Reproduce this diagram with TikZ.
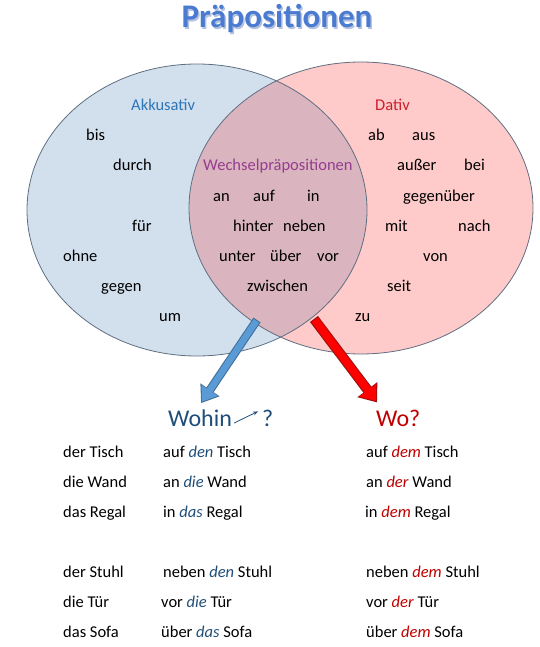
\documentclass[tikz,border=0pt]{standalone}
\usepackage{fontspec}
\setmainfont{Carlito}
\usetikzlibrary{arrows.meta}

\definecolor{akkfill}{HTML}{D2E0EE}
\definecolor{datfill}{HTML}{FFCACA}
\definecolor{schnittfill}{HTML}{DAB5BF}
\definecolor{rand}{HTML}{5F6F80}
\definecolor{akkblau}{HTML}{2E75B6}
\definecolor{datrot}{HTML}{CC1F2C}
\definecolor{wechsellila}{HTML}{953C8F}
\definecolor{wohinblau}{HTML}{1F4E79}
\definecolor{worot}{HTML}{C00000}
\definecolor{titelblau}{HTML}{4A7BD0}
\definecolor{titelschatten}{HTML}{B4C2DE}
\definecolor{pfeilblau}{HTML}{5B9BD5}
\definecolor{pfeilblaurand}{HTML}{41719C}
\definecolor{pfeilrot}{HTML}{FF0000}
\definecolor{pfeilrotrand}{HTML}{9E1010}

\newcommand{\akkart}[1]{\textcolor{wohinblau}{\textit{#1}}}
\newcommand{\datart}[1]{\textcolor{worot}{\textit{#1}}}

\begin{document}
\begin{tikzpicture}[x=1pt, y=-1pt,
    wort/.style={anchor=base west, inner sep=0pt, font=\fontsize{16.5}{20}\selectfont},
    titel/.style={anchor=base, inner sep=0pt, font=\fontsize{33}{38}\selectfont\bfseries},
    frage/.style={anchor=base west, inner sep=0pt, font=\fontsize{24}{28}\selectfont},
    akkpfeil/.style={line width=8.6pt, draw=pfeilblaurand, -{Triangle[width=22pt,length=16pt]},
        postaction={draw=pfeilblau, line width=6.4pt, shorten <=1.1pt, shorten >=1.8pt,
            -{Triangle[width=18.5pt,length=13.5pt]}}},
    datpfeil/.style={line width=10pt, draw=pfeilrotrand, -{Triangle[width=24pt,length=16pt]},
        postaction={draw=pfeilrot, line width=7.8pt, shorten <=1.1pt, shorten >=1.8pt,
            -{Triangle[width=20.5pt,length=13.5pt]}}},
]
    \useasboundingbox (0,0) rectangle (540,647);

    % title
    \node[titel, text=titelschatten] (titelschatten) at (278.5,29.5) {Präpositionen};
    \node[titel, text=titelblau] (titel) at (277,28) {Präpositionen};

    % venn diagram
    \fill[akkfill] (197,210) ellipse [x radius=170pt, y radius=146pt];
    \fill[datfill] (361,208) ellipse [x radius=172pt, y radius=146pt];
    \begin{scope}
        \clip (197,210) ellipse [x radius=170pt, y radius=146pt];
        \fill[schnittfill] (361,208) ellipse [x radius=172pt, y radius=146pt];
    \end{scope}
    \draw[rand, line width=0.8pt] (197,210) ellipse [x radius=170pt, y radius=146pt];
    \draw[rand, line width=0.8pt] (361,208) ellipse [x radius=172pt, y radius=146pt];

    % Akkusativ
    \node[wort, text=akkblau] (akk) at (131,111) {Akkusativ};
    \node[wort] (bis) at (86,141) {bis};
    \node[wort] (durch) at (113,171) {durch};
    \node[wort] (fuer) at (132,231) {für};
    \node[wort] (ohne) at (63,261) {ohne};
    \node[wort] (gegen) at (101,291) {gegen};
    \node[wort] (um) at (159,321) {um};

    % Dativ
    \node[wort, text=datrot] (dat) at (375,111) {Dativ};
    \node[wort] (ab) at (368,141) {ab};
    \node[wort] (aus) at (412,141) {aus};
    \node[wort] (ausser) at (397,171) {außer};
    \node[wort] (bei) at (464,171) {bei};
    \node[wort] (gegenueber) at (403,201) {gegenüber};
    \node[wort] (mit) at (385,231) {mit};
    \node[wort] (nach) at (458,231) {nach};
    \node[wort] (von) at (423,261) {von};
    \node[wort] (seit) at (387,291) {seit};
    \node[wort] (zu) at (355,321) {zu};

    % Wechselpraepositionen
    \node[wort, text=wechsellila] (wechsel) at (203,171) {Wechselpräpositionen};
    \node[wort] (an) at (213,201) {an};
    \node[wort] (auf) at (253,201) {auf};
    \node[wort] (inw) at (307,201) {in};
    \node[wort] (hinter) at (233,231) {hinter};
    \node[wort] (neben) at (283,231) {neben};
    \node[wort] (unter) at (219,261) {unter};
    \node[wort] (ueber) at (270,261) {über};
    \node[wort] (vor) at (317,261) {vor};
    \node[wort] (zwischen) at (247,291) {zwischen};

    % Fragen
    \node[frage, text=wohinblau] (wohin) at (168,426) {Wohin};
    \node[frage, text=wohinblau] (qmark) at (262,426) {?};
    \node[frage, text=worot] (wo) at (376,426) {Wo?};

    \coordinate (akkstart) at (257,320);
    \coordinate (datstart) at (314,319);
    \draw[akkpfeil] (akkstart) -- ([xshift=1pt,yshift=6pt]wohin.north);
    \draw[datpfeil] (datstart) -- ([xshift=1pt,yshift=7pt]wo.north west);
    \draw[wohinblau, line width=0.8pt, -{Stealth[length=5pt,width=4pt]}]
        ([xshift=2pt,yshift=3pt]wohin.base east) -- ([xshift=-4pt,yshift=-2pt]qmark.north west);

    % Beispiele
    \node[wort] (tisch) at (63,457) {der Tisch};
    \node[wort] (akktisch) at (163,457) {auf \akkart{den} Tisch};
    \node[wort] (dattisch) at (366,457) {auf \datart{dem} Tisch};
    \node[wort] (wand) at (63,487) {die Wand};
    \node[wort] (akkwand) at (163,487) {an \akkart{die} Wand};
    \node[wort] (datwand) at (366,487) {an \datart{der} Wand};
    \node[wort] (regal) at (63,517) {das Regal};
    \node[wort] (akkregal) at (163,517) {in \akkart{das} Regal};
    \node[wort] (datregal) at (365,517) {in \datart{dem} Regal};

    \node[wort] (stuhl) at (63,577) {der Stuhl};
    \node[wort] (akkstuhl) at (163,577) {neben \akkart{den} Stuhl};
    \node[wort] (datstuhl) at (366,577) {neben \datart{dem} Stuhl};
    \node[wort] (tuer) at (63,607) {die Tür};
    \node[wort] (akktuer) at (161,607) {vor \akkart{die} Tür};
    \node[wort] (dattuer) at (366,607) {vor \datart{der} Tür};
    \node[wort] (sofa) at (63,637) {das Sofa};
    \node[wort] (akksofa) at (161,637) {über \akkart{das} Sofa};
    \node[wort] (datsofa) at (366,637) {über \datart{dem} Sofa};
\end{tikzpicture}
\end{document}
